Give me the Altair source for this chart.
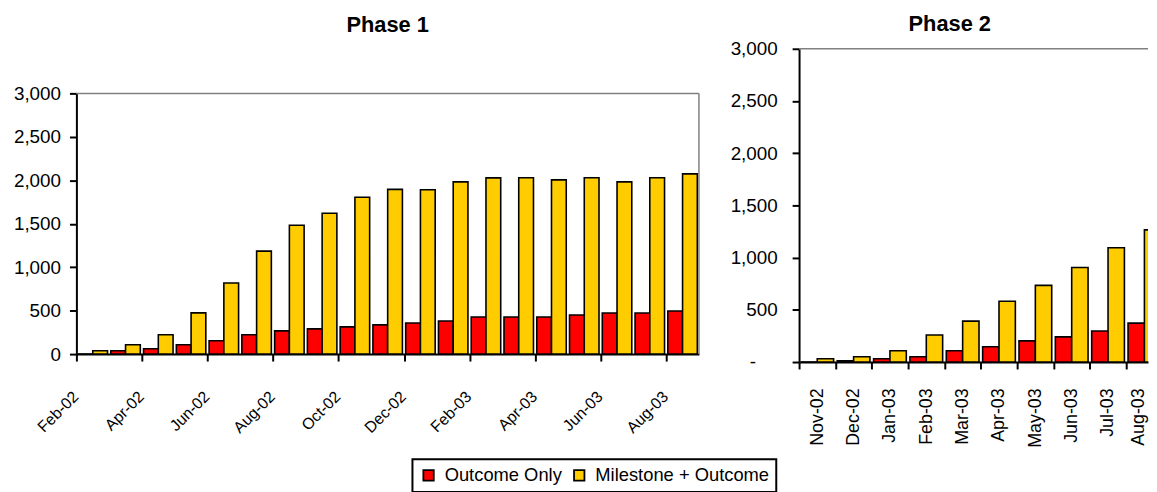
import altair as alt
import pandas as pd

SERIES = ["Outcome Only", "Milestone + Outcome"]
COLORS = ["#FF0000", "#FFCC00"]

p1_months = ["Feb-02", "Mar-02", "Apr-02", "May-02", "Jun-02", "Jul-02", "Aug-02",
             "Sep-02", "Oct-02", "Nov-02", "Dec-02", "Jan-03", "Feb-03", "Mar-03",
             "Apr-03", "May-03", "Jun-03", "Jul-03", "Aug-03"]
p1_outcome = [0, 38, 61, 107, 153, 222, 267, 290, 313, 336, 358, 381, 427, 427,
              427, 450, 473, 473, 496]
p1_milestone = [38, 107, 222, 474, 818, 1185, 1483, 1620, 1804, 1895, 1891, 1982,
                2028, 2030, 2005, 2030, 1982, 2030, 2074]

p2_months = ["Nov-02", "Dec-02", "Jan-03", "Feb-03", "Mar-03", "Apr-03", "May-03",
             "Jun-03", "Jul-03", "Aug-03"]
p2_outcome = [0, 13, 32, 51, 108, 146, 203, 241, 297, 373]
p2_milestone = [32, 51, 108, 259, 392, 582, 734, 905, 1095, 1266]

y_ticks = [0, 500, 1000, 1500, 2000, 2500, 3000]


def long(months, a, b):
    rows = []
    for i, m in enumerate(months):
        rows.append({"i": i, "month": m, "series": SERIES[0], "value": a[i]})
        rows.append({"i": i, "month": m, "series": SERIES[1], "value": b[i]})
    return pd.DataFrame(rows)


df1 = long(p1_months, p1_outcome, p1_milestone)
df2 = long(p2_months, p2_outcome, p2_milestone)
YMAX = max(y_ticks)
df_frame1 = pd.DataFrame({"y0": [YMAX, 0], "y1": [YMAX, YMAX],
                          "xa": [0, len(p1_months)], "xb": [len(p1_months), len(p1_months)]})
df_top2 = pd.DataFrame({"top": [YMAX]})

FONT = "Liberation Sans"
NARROW = "Liberation Sans Narrow, Liberation Sans"


def js_list(lst):
    return "[" + ",".join("'" + s + "'" for s in lst) + "]"


color = alt.Color(
    "series:N",
    scale=alt.Scale(domain=SERIES, range=COLORS),
    legend=alt.Legend(
        title=None, orient="none", legendX=339, legendY=414, direction="horizontal",
        symbolType="square", symbolSize=110, symbolStrokeColor="black",
        symbolStrokeWidth=1.8, labelFontSize=18.5, labelFont=FONT, labelColor="black",
        labelLimit=400, strokeColor="black", padding=7, columnPadding=8, labelOffset=7,
        fillColor="white",
    ),
)

calc = dict(
    x0="datum.i + (datum.series == 'Outcome Only' ? 0.05 : 0.5)",
    x1="datum.i + (datum.series == 'Outcome Only' ? 0.5 : 0.95)",
    base="0",
)

axis_common = dict(
    title=None, grid=False, domainColor="black", domainWidth=2, tickColor="black",
    tickWidth=2, tickSize=7, labelFont=FONT, labelColor="black", labelOverlap=False,
    labelFlush=False,
)

# ---------- Phase 1 ----------
H1 = 308          # view spans same height as phase 2 area; y range places 3000 lower
x1_scale = alt.Scale(domain=[0, len(p1_months)], nice=False, zero=False)
y1_scale = alt.Scale(domain=[0, YMAX], nice=False, range=[H1, 45])

bars1 = alt.Chart(df1).transform_calculate(**calc).mark_bar(
    stroke="black", strokeWidth=1.6, clip=True
).encode(
    x=alt.X("x0:Q", scale=x1_scale,
            axis=alt.Axis(values=list(range(len(p1_months) + 1)),
                          labelExpr="datum.value % 2 == 0 && datum.value < 19 ? "
                                    + js_list(p1_months) + "[datum.value] : ''",
                          labelAngle=-45, labelAlign="right", labelBaseline="middle",
                          labelPadding=33, labelOffset=-1, labelFontSize=16,
                          **{**axis_common, "labelFont": NARROW})),
    x2="x1:Q",
    y=alt.Y("value:Q", scale=y1_scale,
            axis=alt.Axis(values=y_ticks, format=",.0f", labelPadding=9, labelFontSize=19,
                          **axis_common)),
    y2="base:Q",
    color=color,
)
frame_top1 = alt.Chart(df_frame1).mark_rule(color="#808080", strokeWidth=1.5).encode(
    x=alt.X("xa:Q", scale=x1_scale), x2="xb:Q",
    y=alt.Y("y1:Q", scale=y1_scale), y2="y0:Q",
)

p1 = alt.layer(bars1, frame_top1).properties(
    width=628, height=H1,
    title=alt.TitleParams("Phase 1", fontSize=22, font=FONT, fontWeight="bold",
                          anchor="middle", frame="group", offset=12, color="black"),
)

# ---------- Phase 2 ----------
W2 = 352
STEP2 = 36.67
bars2 = alt.Chart(df2).transform_calculate(**calc).mark_bar(
    stroke="black", strokeWidth=1.6, clip=True
).encode(
    x=alt.X("x0:Q", scale=alt.Scale(domain=[0, W2 / STEP2], nice=False, zero=False),
            axis=alt.Axis(values=list(range(len(p2_months))),
                          labelExpr=js_list(p2_months) + "[datum.value]",
                          labelAngle=270, labelAlign="right", labelBaseline="middle",
                          labelPadding=19, labelFontSize=18,
                          labelOffset={"condition": {"test": "datum.value == 9", "value": 12},
                                       "value": 18.3},
                          **axis_common)),
    x2="x1:Q",
    y=alt.Y("value:Q", scale=alt.Scale(domain=[0, YMAX], nice=False),
            axis=alt.Axis(values=y_ticks,
                          labelExpr="datum.value == 0 ? '-' : format(datum.value, ',')",
                          labelPadding={"condition": {"test": "datum.value == 0", "value": 37},
                                        "value": 15},
                          labelFontSize=19, **axis_common)),
    y2="base:Q",
    color=color,
)
top2 = alt.Chart(df_top2).mark_rule(color="#808080", strokeWidth=1.5).encode(y="top:Q")

p2 = alt.layer(bars2, top2).properties(
    width=W2, height=316,
    title=alt.TitleParams("Phase 2", fontSize=22, font=FONT, fontWeight="bold",
                          anchor="middle", frame="group", offset=4, dx=-24, color="black"),
)

chart = alt.hconcat(p1, p2, spacing=30).properties(
    padding={"left": 5, "top": 3, "right": 0, "bottom": 0},
    background="white",
).configure_view(stroke=None).configure_legend(strokeWidth=2)

chart.save("out.html", embed_options={"renderer": "svg", "actions": False})
